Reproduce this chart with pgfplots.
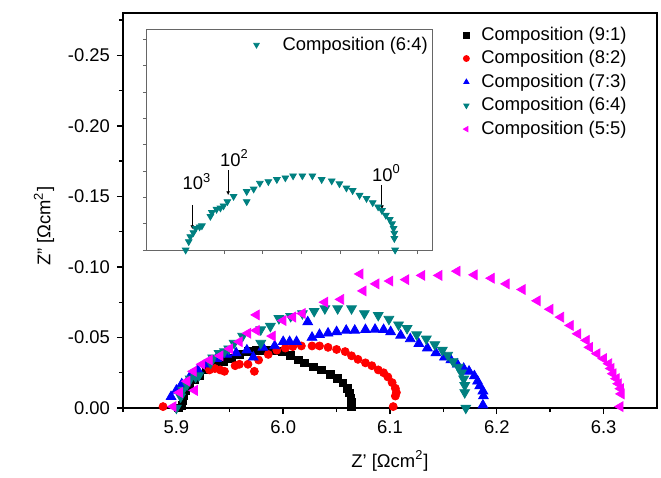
\documentclass[border=0pt]{standalone}
\usepackage{fontspec}
\setmainfont{Liberation Sans}
\usepackage{pgfplots}
\pgfplotsset{compat=1.18}
\usepackage{pgfplotstable}
\usetikzlibrary{arrows.meta}
\definecolor{cteal}{RGB}{0,128,128}
\definecolor{cmag}{RGB}{255,0,255}
\definecolor{cred}{RGB}{255,0,0}
\definecolor{cblue}{RGB}{0,0,255}

\pgfplotstableread{
x y
5.902 0
5.905 -0.002
5.906 -0.005
5.907 -0.009
5.909 -0.012
5.9125 -0.016
5.917 -0.020
5.922 -0.023
5.928 -0.027
5.936 -0.030
5.944 -0.033
5.952 -0.035
5.959 -0.038
5.967 -0.040
5.975 -0.041
5.983 -0.041
5.991 -0.041
5.999 -0.040
6.007 -0.0375
6.014 -0.034
6.020 -0.032
6.028 -0.029
6.036 -0.027
6.044 -0.024
6.051 -0.021
6.056 -0.0177
6.060 -0.014
6.062 -0.0106
6.0635 -0.007
6.064 -0.004
6.064 -0.0007
}\blackdata

\pgfplotstableread{
x y
5.8875 -0.001
5.931 -0.027
5.936 -0.028
5.941 -0.027
5.945 -0.026
5.955 -0.030
5.959 -0.031
5.967 -0.031
5.973 -0.026
5.977 -0.034
5.986 -0.038
5.994 -0.041
6.002 -0.0425
6.009 -0.0435
6.017 -0.044
6.027 -0.044
6.034 -0.044
6.042 -0.043
6.050 -0.0415
6.058 -0.040
6.064 -0.037
6.070 -0.0345
6.077 -0.032
6.083 -0.030
6.089 -0.027
6.094 -0.025
6.098 -0.022
6.102 -0.018
6.105 -0.014
6.106 -0.011
6.105 -0.0085
6.103 -0.001
}\reddata

\pgfplotstableread{
x y
5.895 -0.008
5.900 -0.0125
5.905 -0.017
5.9125 -0.022
5.920 -0.027
5.928 -0.031
5.9375 -0.035
5.947 -0.038
5.956 -0.039
5.966 -0.041
5.972 -0.036
5.981 -0.043
5.992 -0.044
6.000 -0.047
6.006 -0.047
6.0125 -0.047
6.023 -0.061
6.027 -0.050
6.034 -0.052
6.042 -0.053
6.050 -0.054
6.059 -0.055
6.067 -0.055
6.077 -0.0555
6.086 -0.0557
6.094 -0.0555
6.1006 -0.054
6.110 -0.0515
6.119 -0.049
6.127 -0.0456
6.135 -0.0425
6.143 -0.039
6.151 -0.036
6.157 -0.034
6.163 -0.031
6.169 -0.028
6.174 -0.026
6.179 -0.0227
6.182 -0.019
6.184 -0.0156
6.187 -0.012
6.1875 -0.0085
6.187 -0.002
}\bluedata

\pgfplotstableread{
x y
5.900 0
5.904 -0.008
5.906 -0.0127
5.910 -0.0165
5.913 -0.0206
5.918 -0.022
5.921 -0.023
5.932 -0.032
5.934 -0.0356
5.940 -0.0387
5.945 -0.040
5.949 -0.042
5.954 -0.046
5.962 -0.051
5.979 -0.046
5.979 -0.0556
5.988 -0.058
5.996 -0.0635
6.007 -0.065
6.018 -0.067
6.029 -0.0686
6.039 -0.0705
6.051 -0.0705
6.064 -0.0705
6.076 -0.067
6.089 -0.0657
6.099 -0.063
6.108 -0.059
6.116 -0.0565
6.125 -0.052
6.134 -0.049
6.142 -0.045
6.149 -0.041
6.154 -0.0375
6.159 -0.033
6.164 -0.029
6.167 -0.025
6.169 -0.0206
6.170 -0.016
6.170 -0.011
6.171 0
}\tealdata

\pgfplotstableread{
x y
5.897 -0.001
5.903 -0.011
5.910 -0.019
5.917 -0.0125
5.916 -0.026
5.924 -0.031
5.931 -0.034
5.941 -0.037
5.950 -0.042
5.959 -0.047
5.967 -0.053
5.975 -0.055
5.975 -0.066
5.990 -0.051
6.000 -0.062
6.009 -0.0645
6.018 -0.067
6.039 -0.075
6.054 -0.077
6.072 -0.095
6.075 -0.083
6.087 -0.088
6.100 -0.090
6.115 -0.091
6.130 -0.094
6.146 -0.094
6.163 -0.097
6.179 -0.0944
6.195 -0.092
6.209 -0.088
6.224 -0.084
6.238 -0.076
6.250 -0.070
6.260 -0.0644
6.269 -0.0585
6.276 -0.0526
6.284 -0.048
6.287 -0.043
6.294 -0.0385
6.300 -0.035
6.305 -0.0314
6.307 -0.028
6.309 -0.0243
6.312 -0.0208
6.314 -0.0172
6.316 -0.0137
6.3166 -0.010
6.3156 -0.001
}\magdata

\begin{document}
\begin{tikzpicture}[font=\fontsize{9.2}{11}\selectfont]
\begin{axis}[
  at={(0,0)}, anchor=south west,
  width=267pt, height=197.5pt, scale only axis,
  xmin=5.85, xmax=6.35, ymin=-0.28, ymax=0, y dir=reverse,
  xtick={5.9,6.0,6.1,6.2,6.3},
  minor xtick={5.85,5.95,6.05,6.15,6.25},
  ytick={-0.25,-0.2,-0.15,-0.1,-0.05,0},
  minor ytick={-0.275,-0.225,-0.175,-0.125,-0.075,-0.025},
  xtick pos=bottom, ytick pos=left,
  tick align=outside,
  major tick length=3pt, minor tick length=2pt,
  axis line style={line width=0.9pt},
  every tick/.style={black, line width=0.7pt},
  /pgf/number format/assume math mode=true,
  xticklabel style={/pgf/number format/fixed, /pgf/number format/fixed zerofill, /pgf/number format/precision=1},
  yticklabel style={/pgf/number format/fixed, /pgf/number format/fixed zerofill, /pgf/number format/precision=2},
  xlabel={Z’ [Ωcm\textsuperscript{2}]},
  xlabel style={yshift=-1.5pt},
  ylabel={Z” [Ωcm\textsuperscript{2}]},
  ylabel style={at={(ticklabel cs:0.46)}},
  legend image code/.code={\draw[#1, only marks, mark size=1.5pt] plot coordinates {(0cm,0cm)}; \path[draw=none] (0pt,0pt) -- (6.5pt,0pt);},
  legend style={draw=none, fill=none, inner sep=0pt, column sep=0pt, row sep=1.6pt,
    nodes={inner sep=1pt, anchor=west}, at={(rel axis cs:0.6367,0.9711)}, anchor=north west,
    font=\fontsize{9.2}{11}\selectfont},
  legend cell align=left,
]
\addplot[only marks, mark=square*, mark size=1.9pt, black] table {\blackdata};
\addlegendentry{Composition (9:1)}
\addplot[only marks, mark=*, mark size=2.0pt, cred] table {\reddata};
\addlegendentry{Composition (8:2)}
\addplot[only marks, mark=triangle*, mark size=2.8pt, cblue] table {\bluedata};
\addlegendentry{Composition (7:3)}
\addplot[only marks, mark=triangle*, mark size=2.8pt, cteal, mark options={rotate=180}] table {\tealdata};
\addlegendentry{Composition (6:4)}
\addplot[only marks, mark=triangle*, mark size=2.8pt, cmag, mark options={rotate=90}] table {\magdata};
\addlegendentry{Composition (5:5)}
\end{axis}

\begin{axis}[
  at={(12pt,79pt)}, anchor=south west,
  width=143pt, height=110.5pt, scale only axis,
  xmin=5.85, xmax=6.22, ymin=-0.21, ymax=0, y dir=reverse,
  xtick={5.9,5.95,6.0,6.05,6.1,6.15,6.2},
  ytick={-0.2,-0.175,-0.15,-0.125,-0.1,-0.075,-0.05,-0.025,0},
  xticklabels={}, yticklabels={},
  xtick pos=bottom, ytick pos=left,
  tick align=outside, major tick length=2pt,
  axis line style={line width=0.5pt, black!60},
  every tick/.style={black!60, line width=0.5pt},
  axis background/.style={fill=white},
  legend image code/.code={\draw[#1, only marks, mark size=1.6pt] plot coordinates {(0cm,0cm)}; \path[draw=none] (0pt,0pt) -- (12pt,0pt);},
  legend style={draw=none, fill=none, inner sep=0pt, column sep=0pt,
    nodes={inner sep=1pt, anchor=west}, at={(rel axis cs:0.99,0.976)}, anchor=north east,
    font=\fontsize{9.2}{11}\selectfont},
]
\addplot[only marks, mark=triangle*, mark size=1.9pt, cteal, mark options={rotate=180}] table {\tealdata};
\addlegendentry{Composition (6:4)}
\draw[black, line width=0.5pt, -{Latex[length=2pt,width=2pt]}] (axis cs:5.9086,-0.043) -- (axis cs:5.9086,-0.0197);
\draw[black, line width=0.5pt, -{Latex[length=2pt,width=2pt]}] (axis cs:5.955,-0.076) -- (axis cs:5.955,-0.052);
\draw[black, line width=0.5pt, -{Latex[length=2pt,width=2pt]}] (axis cs:6.154,-0.062) -- (axis cs:6.154,-0.0387);
\node[anchor=base west, inner sep=0pt] at (axis cs:5.8957,-0.0571) {10\textsuperscript{3}};
\node[anchor=base west, inner sep=0pt] at (axis cs:5.944,-0.0794) {10\textsuperscript{2}};
\node[anchor=base west, inner sep=0pt] at (axis cs:6.1409,-0.0651) {10\textsuperscript{0}};
\end{axis}
\pgfresetboundingbox
\path[use as bounding box] (-61.5pt,-35pt) rectangle (269pt,204pt);
\end{tikzpicture}
\end{document}
